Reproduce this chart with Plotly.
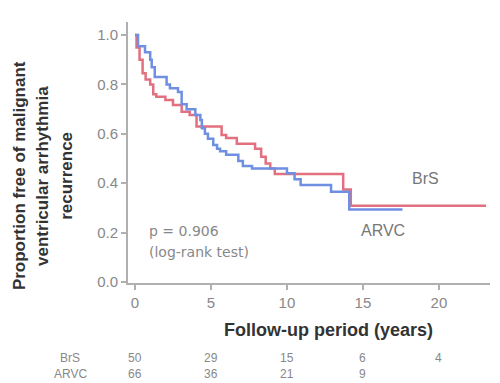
import plotly.graph_objects as go

# Kaplan-Meier step data (years, proportion free)
brs_t = [0, 0.1, 0.3, 0.5, 0.7, 1.0, 1.2, 1.4, 2.0, 2.5, 3.07, 3.6, 4.05, 5.7, 6.0, 6.7, 7.9, 8.3, 8.6, 8.9, 9.2, 13.7, 14.2, 23.1]
brs_s = [1.0, 0.95, 0.90, 0.845, 0.82, 0.80, 0.76, 0.75, 0.737, 0.717, 0.69, 0.676, 0.63, 0.595, 0.583, 0.56, 0.54, 0.507, 0.48, 0.46, 0.437, 0.375, 0.309, 0.309]
arvc_t = [0, 0.2, 0.66, 1.0, 1.1, 1.3, 2.08, 2.3, 2.83, 3.07, 3.4, 3.97, 4.3, 4.4, 4.6, 4.8, 5.15, 5.4, 5.6, 6.0, 6.8, 7.1, 7.7, 10.0, 10.5, 10.9, 12.9, 14.1, 17.6]
arvc_s = [1.0, 0.955, 0.93, 0.90, 0.87, 0.83, 0.80, 0.785, 0.77, 0.72, 0.70, 0.676, 0.656, 0.623, 0.60, 0.58, 0.555, 0.54, 0.53, 0.515, 0.49, 0.47, 0.46, 0.44, 0.416, 0.393, 0.366, 0.294, 0.294]

x_ticks = [0, 5, 10, 15, 20]
y_ticks = [0.0, 0.2, 0.4, 0.6, 0.8, 1.0]
risk_groups = ["BrS", "ARVC"]
risk_times_brs = [0, 5, 10, 15, 20]
risk_brs = [50, 29, 15, 6, 4]
risk_times_arvc = [0, 5, 10, 15]
risk_arvc = [66, 36, 21, 9]

RED = "#e2707e"
BLUE = "#6f8fe3"
GRAY = "#888888"
FONT = "Liberation Sans, Arial, sans-serif"
WFONT = "DejaVu Sans, sans-serif"

fig = go.Figure()
fig.add_trace(go.Scatter(x=brs_t, y=brs_s, mode="lines", line=dict(color=RED, width=2.5, shape="hv"), name="BrS"))
fig.add_trace(go.Scatter(x=arvc_t, y=arvc_s, mode="lines", line=dict(color=BLUE, width=2.5, shape="hv"), name="ARVC"))

ann = []
# curve labels
ann.append(dict(x=19.1, y=0.42, xref="x", yref="y", text="BrS", showarrow=False, font=dict(size=16, color="#777777", family=FONT)))
ann.append(dict(x=16.3, y=0.21, xref="x", yref="y", text="ARVC", showarrow=False, font=dict(size=16, color="#777777", family=FONT)))
# p value
ann.append(dict(x=0.8, y=0.205, xref="x", yref="y", text="p = 0.906", showarrow=False, xanchor="left", font=dict(size=14, color=GRAY, family=WFONT)))
ann.append(dict(x=0.8, y=0.12, xref="x", yref="y", text="(log-rank test)", showarrow=False, xanchor="left", font=dict(size=14, color=GRAY, family=WFONT)))
# x title
ann.append(dict(x=0.555, y=-0.18, xref="paper", yref="paper", text="<b>Follow-up period (years)</b>", showarrow=False, xanchor="center", yanchor="middle", font=dict(size=18, color="#333333", family=FONT)))
# y title lines
for xp, t in [(-0.298, "Proportion free of malignant"), (-0.235, "ventricular arrhythmia"), (-0.169, "recurrence")]:
    ann.append(dict(x=xp, y=0.41, xref="paper", yref="paper", text="<b>" + t + "</b>", textangle=-90, showarrow=False, xanchor="center", yanchor="middle", font=dict(size=17, color="#333333", family=FONT)))
# risk table
row_y = [-0.287, -0.347]
for g, yp in zip(risk_groups, row_y):
    ann.append(dict(x=-0.16, y=yp, xref="paper", yref="paper", text=g, showarrow=False, xanchor="center", yanchor="middle", font=dict(size=12, color=GRAY, family=FONT)))
for t, n in zip(risk_times_brs, risk_brs):
    ann.append(dict(x=t, y=row_y[0], xref="x", yref="paper", text=str(n), showarrow=False, xanchor="center", yanchor="middle", font=dict(size=12, color=GRAY, family=FONT)))
for t, n in zip(risk_times_arvc, risk_arvc):
    ann.append(dict(x=t, y=row_y[1], xref="x", yref="paper", text=str(n), showarrow=False, xanchor="center", yanchor="middle", font=dict(size=12, color=GRAY, family=FONT)))

fig.update_layout(
    width=500, height=383,
    margin=dict(l=128, r=10, t=22, b=100),
    plot_bgcolor="white", paper_bgcolor="white",
    showlegend=False,
    annotations=ann,
    font=dict(family=FONT),
)
fig.update_xaxes(range=[-0.46, 23.36], tickvals=x_ticks, ticktext=[str(v) for v in x_ticks],
                 showline=True, linecolor="#b0b0b0", linewidth=2, ticks="outside", ticklen=5, tickwidth=1.5,
                 tickcolor="#b0b0b0", showgrid=False, zeroline=False, tickfont=dict(size=15, color=GRAY, family=FONT))
fig.update_yaxes(range=[-0.004, 1.053], tickvals=y_ticks, ticktext=["%.1f" % v for v in y_ticks],
                 showline=True, linecolor="#b0b0b0", linewidth=2, ticks="outside", ticklen=5, tickwidth=1.5,
                 tickcolor="#b0b0b0", showgrid=False, zeroline=False, tickfont=dict(size=15, color=GRAY, family=FONT))

fig.write_html("out.html")
